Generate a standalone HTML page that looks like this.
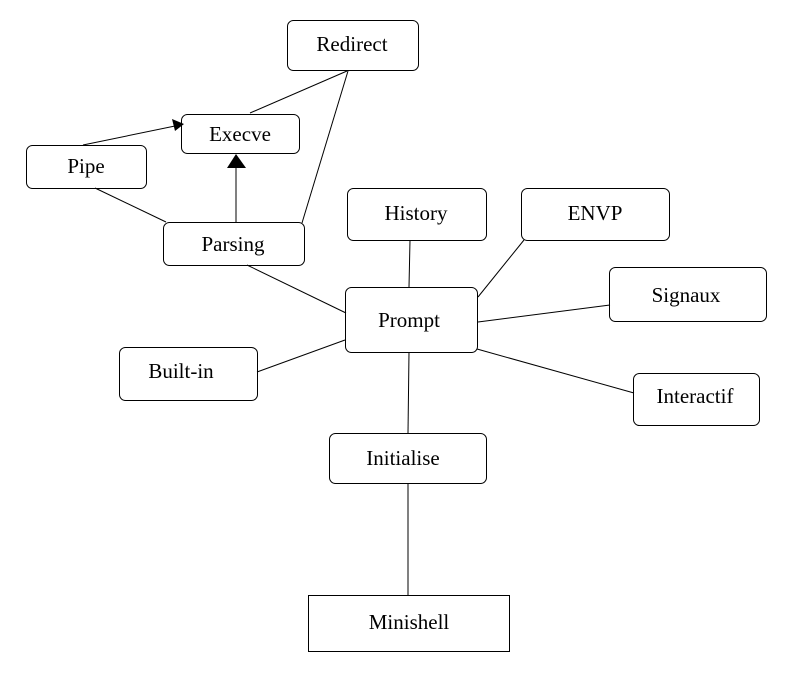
<!DOCTYPE html>
<html><head><style>
body{margin:0;background:#fff;}
svg text{font-family:"Liberation Serif",serif;font-size:21px;fill:#000;text-anchor:middle;dominant-baseline:central;}
</style></head><body>
<svg width="790" height="681" xmlns="http://www.w3.org/2000/svg">
<g fill="#fff" stroke="#000" stroke-width="1">
<rect x="287.5" y="20.5" width="131" height="50" rx="6"/>
<rect x="181.5" y="114.5" width="118" height="39" rx="6"/>
<rect x="26.5" y="145.5" width="120" height="43" rx="6"/>
<rect x="163.5" y="222.5" width="141" height="43" rx="6"/>
<rect x="347.5" y="188.5" width="139" height="52" rx="6"/>
<rect x="521.5" y="188.5" width="148" height="52" rx="6"/>
<rect x="345.5" y="287.5" width="132" height="65" rx="6"/>
<rect x="609.5" y="267.5" width="157" height="54" rx="6"/>
<rect x="633.5" y="373.5" width="126" height="52" rx="6"/>
<rect x="119.5" y="347.5" width="138" height="53" rx="6"/>
<rect x="329.5" y="433.5" width="157" height="50" rx="6"/>
<rect x="308.5" y="595.5" width="201" height="56"/>
</g>
<g stroke="#000" stroke-width="1" fill="none">
<line x1="347" y1="71" x2="250" y2="113"/>
<line x1="348" y1="71" x2="302" y2="223"/>
<line x1="83" y1="145" x2="175" y2="126"/>
<line x1="95" y1="188" x2="166" y2="222"/>
<line x1="236" y1="222" x2="236" y2="166"/>
<line x1="247" y1="265" x2="346" y2="313"/>
<line x1="410" y1="240" x2="409" y2="287"/>
<line x1="524" y1="240" x2="478" y2="297"/>
<line x1="610" y1="305" x2="478" y2="322"/>
<line x1="634" y1="393" x2="477" y2="349"/>
<line x1="257" y1="372" x2="345" y2="340"/>
<line x1="409" y1="352" x2="408" y2="433"/>
<line x1="408" y1="483" x2="408" y2="595"/>
</g>
<polygon points="184,124 172,119 175,131" fill="#000"/>
<polygon points="236,154 227,168 246,168" fill="#000"/>
<text x="352" y="44">Redirect</text>
<text x="240" y="134">Execve</text>
<text x="86" y="166">Pipe</text>
<text x="233" y="244">Parsing</text>
<text x="416" y="213">History</text>
<text x="595" y="213">ENVP</text>
<text x="409" y="320">Prompt</text>
<text x="686" y="295">Signaux</text>
<text x="695" y="396">Interactif</text>
<text x="181" y="371">Built-in</text>
<text x="403" y="458">Initialise</text>
<text x="409" y="622">Minishell</text>
</svg>
</body></html>
